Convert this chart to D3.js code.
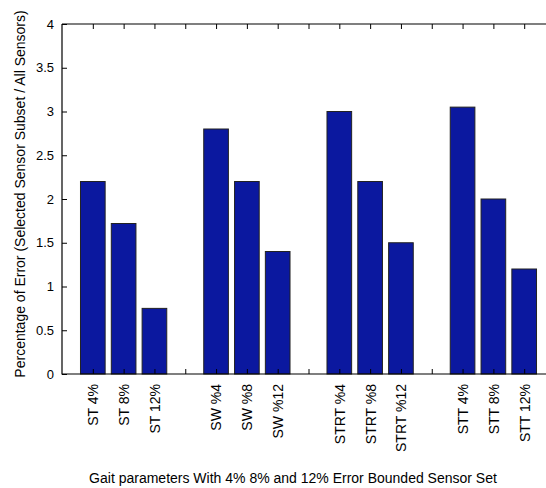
<!DOCTYPE html>
<html>
<head>
<meta charset="utf-8">
<script src="https://cdn.jsdelivr.net/npm/d3@7"></script>
<style>
body { margin: 0; background: #fff; }
text { font-family: "Liberation Sans", Arial, sans-serif; fill: #000; }
</style>
</head>
<body>
<div id="chart"></div>
<script>
// categories, blank slots separate the four groups
const categories = ["ST 4%", "ST 8%", "ST 12%", "",
    "SW %4", "SW %8", "SW %12", "",
    "STRT %4", "STRT %8", "STRT %12", "",
    "STT 4%", "STT 8%", "STT 12%"];
const values = [2.2, 1.72, 0.75, null,
    2.8, 2.2, 1.4, null,
    3.0, 2.2, 1.5, null,
    3.05, 2.0, 1.2];
const yTicks = [0, 0.5, 1, 1.5, 2, 2.5, 3, 3.5, 4];

const W = 546, H = 488;
const margin = { top: 24, left: 62, bottom: 114 };
const plotH = H - margin.top - margin.bottom;

// xlim [0, 16] like matlab, positions 1..15
const x = d3.scaleLinear().domain([0, 16]).range([0, 493]);
const y = d3.scaleLinear().domain([0, 4]).range([plotH, 0]);
const barW = (x(1) - x(0)) * 0.8;

const svg = d3.select("#chart").append("svg")
    .attr("width", W).attr("height", H);
const g = svg.append("g")
    .attr("transform", "translate(" + margin.left + "," + margin.top + ")");

const data = categories.map((c, i) => ({ cat: c, pos: i + 1, v: values[i] }));

g.selectAll("rect.bar")
    .data(data.filter(d => d.v !== null))
    .enter().append("rect")
    .attr("class", "bar")
    .attr("x", d => x(d.pos) - barW / 2)
    .attr("y", d => y(d.v))
    .attr("width", barW)
    .attr("height", d => y(0) - y(d.v))
    .attr("fill", "#0b189f")
    .attr("stroke", "#222")
    .attr("stroke-width", 1);

// box
const x1 = x(16);
g.append("path")
    .attr("d", "M0,0H" + x1 + "M0,0V" + plotH + "H" + x1)
    .attr("stroke", "#000").attr("fill", "none").attr("stroke-width", 1.2);

// y axis, ticks inside
const yAxis = g.append("g").call(d3.axisLeft(y).tickValues(yTicks).tickSize(-5).tickPadding(8)
    .tickFormat(d3.format("~g")));
yAxis.select(".domain").remove();
yAxis.selectAll("text").style("font-size", "13px");

// bottom axis with rotated labels
const xAxis = g.append("g").attr("transform", "translate(0," + plotH + ")")
    .call(d3.axisBottom(x).tickValues(data.map(d => d.pos)).tickSize(-5)
        .tickFormat((d, i) => categories[i]));
xAxis.select(".domain").remove();
xAxis.selectAll("text")
    .style("font-size", "14px")
    .attr("transform", "rotate(-90)")
    .attr("text-anchor", "end")
    .attr("x", -10)
    .attr("y", 0)
    .attr("dy", "0.35em");

// top ticks
const topAxis = g.append("g")
    .call(d3.axisTop(x).tickValues(data.map(d => d.pos)).tickSize(-5).tickFormat(""));
topAxis.select(".domain").remove();

g.selectAll(".tick line").attr("stroke", "#000");

svg.append("text")
    .attr("transform", "translate(20,194) rotate(-90)")
    .attr("text-anchor", "middle")
    .attr("dy", "0.35em")
    .style("font-size", "14px")
    .text("Percentage of Error (Selected Sensor Subset / All Sensors)");

svg.append("text")
    .attr("x", 293).attr("y", 483)
    .attr("text-anchor", "middle")
    .style("font-size", "14px")
    .text("Gait parameters With 4% 8% and 12% Error Bounded Sensor Set");
</script>
</body>
</html>
